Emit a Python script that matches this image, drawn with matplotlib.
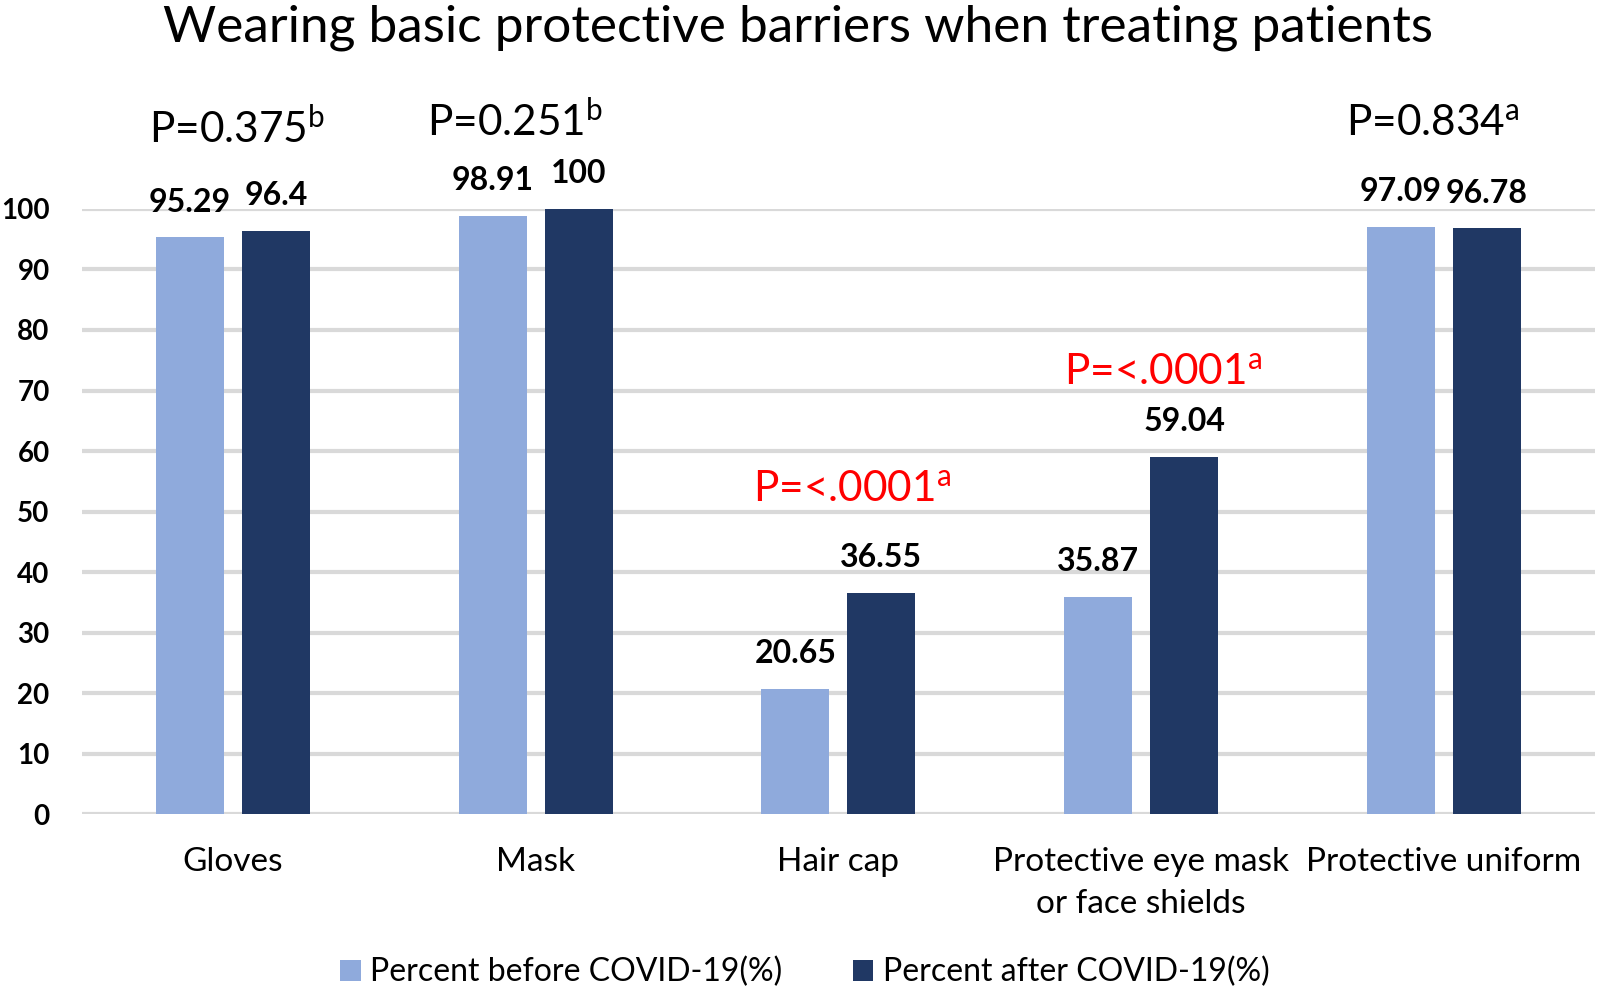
import matplotlib
matplotlib.use("Agg")
import matplotlib.pyplot as plt
import numpy as np

categories = ["Gloves", "Mask", "Hair cap", "Protective eye mask\nor face shields", "Protective uniform"]
before = [95.29, 98.91, 20.65, 35.87, 97.09]
after = [96.4, 100, 36.55, 59.04, 96.78]
before_labels = ["95.29", "98.91", "20.65", "35.87", "97.09"]
after_labels = ["96.4", "100", "36.55", "59.04", "96.78"]
p_values = ["0.375", "0.251", "<.0001", "<.0001", "0.834"]
p_sup = ["b", "b", "a", "a", "a"]
p_red = [False, False, True, True, False]
yticks = [0, 10, 20, 30, 40, 50, 60, 70, 80, 90, 100]
series_names = ["Percent before COVID-19(%)", "Percent after COVID-19(%)"]
title = "Wearing basic protective barriers when treating patients"

plt.rcParams['font.family'] = ['Lato', 'DejaVu Sans']
plt.rcParams['mathtext.fontset'] = 'custom'
plt.rcParams['mathtext.rm'] = 'Lato'
plt.rcParams['mathtext.it'] = 'Lato'

c_before = "#8FAADC"
c_after = "#203864"

fig = plt.figure(figsize=(16, 9.88), dpi=100)
ax = fig.add_axes([0.051, 0.176, 0.946, 0.6125])

x = np.arange(len(categories))
w = 0.225
off = 0.142
ax.bar(x - off, before, w, color=c_before, label=series_names[0], zorder=3)
ax.bar(x + off, after, w, color=c_after, label=series_names[1], zorder=3)

ax.set_xlim(-0.5, len(categories) - 0.5)
ax.set_ylim(0, 100)
ax.set_yticks(yticks)
ax.yaxis.grid(True, color="#D9D9D9", linewidth=3, zorder=0)
ax.set_axisbelow(True)
for s in ax.spines.values():
    s.set_visible(False)
ax.tick_params(axis='y', length=0, pad=23, labelsize=20)
ax.tick_params(axis='x', length=0, pad=24, labelsize=24)
ax.set_xticks(x)
ax.set_xticklabels(categories, linespacing=1.5)
for lab in ax.get_yticklabels():
    lab.set_fontweight('bold')

for xi, v, lbl in zip(x - off, before, before_labels):
    ax.annotate(lbl, (xi, v), xytext=(0, 15), textcoords='offset points',
                ha='center', va='bottom', fontsize=23, fontweight='bold', clip_on=False)
for xi, v, lbl in zip(x + off, after, after_labels):
    ax.annotate(lbl, (xi, v), xytext=(0, 15), textcoords='offset points',
                ha='center', va='bottom', fontsize=23, fontweight='bold', clip_on=False)

p_pos_x = [0.012, 0.931, 2.045, 3.072, 3.965]
p_pos_y = [110.9, 112.1, 51.6, 70.9, 112.1]
for px, py, pv, ps, red in zip(p_pos_x, p_pos_y, p_values, p_sup, p_red):
    ax.text(px, py, "P=" + pv + "$^{\\mathrm{" + ps + "}}$", ha='center', va='baseline',
            fontsize=30.5, color=("#FF0000" if red else "black"), clip_on=False)

fig.text(0.499, 0.972, title, ha='center', va='center', fontsize=37)

leg = fig.legend(loc='center', bbox_to_anchor=(0.503, 0.016), ncol=2, frameon=False,
                 fontsize=23, handlelength=0.65, handleheight=0.65, handletextpad=0.3,
                 columnspacing=2.2)

fig.savefig("out.png", dpi=100)
